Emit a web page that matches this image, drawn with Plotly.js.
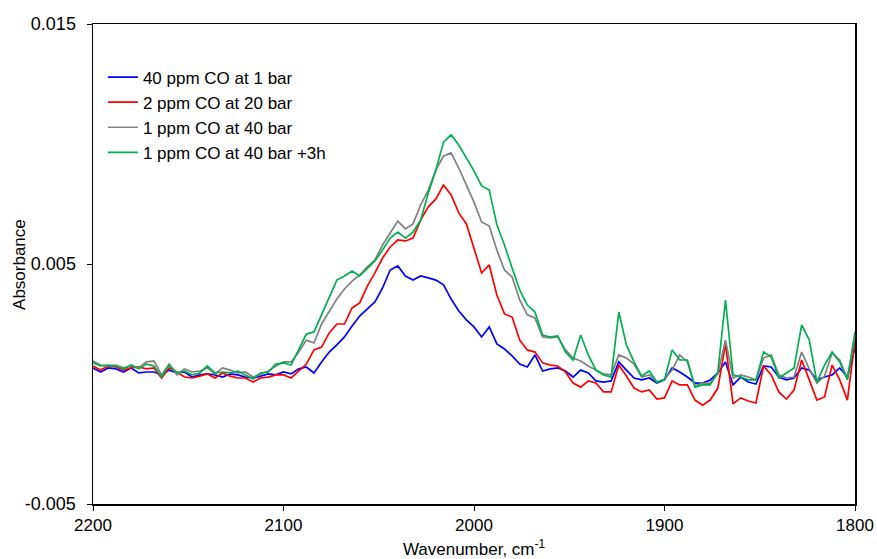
<!DOCTYPE html>
<html>
<head>
<meta charset="utf-8">
<script src="https://cdn.plot.ly/plotly-3.0.1.min.js"></script>
<style>html,body{margin:0;padding:0;background:#fff;}#chart{width:877px;height:559px;}</style>
</head>
<body>
<div id="chart"></div>
<script>
const wavenumber = [2200,2196,2192,2188,2184,2180,2176,2172,2168,2164,2160,2156,2152,2148,2144,2140,2136,2132,2128,2124,2120,2116,2112,2108,2104,2100,2096,2092,2088,2084,2080,2076,2072,2068,2064,2060,2056,2052,2048,2044,2040,2036,2032,2028,2024,2020,2016,2012,2008,2004,2000,1996,1992,1988,1984,1980,1976,1972,1968,1964,1960,1956,1952,1948,1944,1940,1936,1932,1928,1924,1920,1916,1912,1908,1904,1900,1896,1892,1888,1884,1880,1876,1872,1868,1864,1860,1856,1852,1848,1844,1840,1836,1832,1828,1824,1820,1816,1812,1808,1804,1800];

const co40ppm1bar = [
0.00067,0.00050,0.00067,0.00063,0.00050,0.00067,0.00046,0.00050,0.00050,0.00038,
0.00058,0.00046,0.00050,0.00029,0.00038,0.00042,0.00038,0.00029,0.00042,0.00038,
0.00029,0.00025,0.00033,0.00042,0.00038,0.00050,0.00042,0.00063,0.00071,0.00046,
0.00092,0.00133,0.00163,0.00196,0.00242,0.00283,0.00313,0.00342,0.00400,0.00475,
0.00492,0.00450,0.00433,0.00450,0.00442,0.00433,0.00413,0.00354,0.00304,0.00267,
0.00238,0.00196,0.00238,0.00167,0.00146,0.00117,0.00083,0.00071,0.00121,0.00054,
0.00063,0.00067,0.00054,0.00029,0.00058,0.00046,0.00013,0.00008,0.00013,0.00092,
0.00058,0.00025,0.00017,0.00025,0.00004,0.00017,0.00067,0.00050,0.00029,0.00004,
0.00004,0.00017,0.00046,0.00092,-0.00004,0.00029,0.00008,0.00000,0.00075,0.00071,
0.00029,0.00017,0.00025,0.00067,0.00058,0.00017,0.00029,0.00038,0.00067,0.00029,
0.00150];

const co2ppm20bar = [
0.00075,0.00058,0.00075,0.00071,0.00058,0.00067,0.00071,0.00063,0.00067,0.00025,
0.00067,0.00050,0.00029,0.00025,0.00033,0.00042,0.00025,0.00046,0.00033,0.00025,
0.00025,0.00008,0.00025,0.00029,0.00038,0.00038,0.00025,0.00054,0.00083,0.00142,
0.00154,0.00213,0.00250,0.00250,0.00317,0.00338,0.00408,0.00463,0.00525,0.00571,
0.00600,0.00596,0.00608,0.00683,0.00738,0.00771,0.00829,0.00788,0.00713,0.00667,
0.00567,0.00463,0.00496,0.00371,0.00292,0.00279,0.00183,0.00142,0.00133,0.00088,
0.00079,0.00075,0.00050,0.00004,-0.00013,0.00013,0.00004,-0.00033,-0.00033,0.00079,
0.00033,-0.00017,-0.00033,-0.00025,-0.00063,-0.00058,0.00013,-0.00004,-0.00004,-0.00067,
-0.00088,-0.00067,-0.00017,0.00167,-0.00083,-0.00058,-0.00071,-0.00079,0.00075,0.00038,
-0.00033,-0.00063,-0.00025,0.00100,0.00017,-0.00067,-0.00054,0.00079,0.00017,-0.00067,
0.00183];

const co1ppm40bar = [
0.00096,0.00079,0.00075,0.00079,0.00067,0.00075,0.00067,0.00092,0.00096,0.00038,
0.00083,0.00038,0.00063,0.00050,0.00054,0.00067,0.00042,0.00067,0.00058,0.00046,
0.00050,0.00029,0.00042,0.00054,0.00075,0.00092,0.00092,0.00133,0.00183,0.00171,
0.00250,0.00304,0.00354,0.00396,0.00429,0.00454,0.00488,0.00517,0.00579,0.00629,
0.00679,0.00646,0.00667,0.00746,0.00808,0.00892,0.00950,0.00963,0.00900,0.00829,
0.00758,0.00675,0.00658,0.00558,0.00475,0.00446,0.00350,0.00288,0.00275,0.00196,
0.00192,0.00196,0.00142,0.00108,0.00096,0.00075,0.00058,0.00042,0.00038,0.00121,
0.00108,0.00083,0.00029,0.00038,0.00008,0.00021,0.00058,0.00121,0.00092,-0.00008,
0.00004,0.00004,0.00042,0.00183,0.00025,0.00038,0.00029,0.00017,0.00108,0.00121,
0.00038,0.00025,0.00029,0.00133,0.00063,0.00004,0.00033,0.00129,0.00100,0.00021,
0.00204];

const co1ppm40bar3h = [
0.00088,0.00075,0.00079,0.00075,0.00063,0.00079,0.00063,0.00083,0.00075,0.00029,
0.00079,0.00046,0.00054,0.00038,0.00046,0.00075,0.00046,0.00050,0.00046,0.00054,
0.00038,0.00021,0.00046,0.00050,0.00083,0.00088,0.00079,0.00142,0.00208,0.00217,
0.00288,0.00363,0.00433,0.00450,0.00471,0.00450,0.00483,0.00513,0.00558,0.00608,
0.00633,0.00608,0.00633,0.00683,0.00796,0.00892,0.01008,0.01038,0.00996,0.00942,
0.00888,0.00825,0.00808,0.00663,0.00579,0.00483,0.00392,0.00329,0.00300,0.00204,
0.00196,0.00200,0.00133,0.00100,0.00204,0.00121,0.00058,0.00038,0.00029,0.00300,
0.00163,0.00092,0.00033,0.00054,0.00008,0.00017,0.00142,0.00100,0.00100,-0.00013,
-0.00004,-0.00004,0.00050,0.00350,0.00038,0.00029,0.00017,0.00017,0.00133,0.00113,
0.00025,0.00046,0.00067,0.00246,0.00183,0.00008,0.00079,0.00133,0.00092,0.00017,
0.00217];

const seriesNames = ['40 ppm CO at 1 bar','2 ppm CO at 20 bar','1 ppm CO at 40 bar','1 ppm CO at 40 bar +3h'];
const seriesColors = ['#0000FF','#FF0000','#808080','#00B050'];
const seriesValues = [co40ppm1bar, co2ppm20bar, co1ppm40bar, co1ppm40bar3h];

const xTicks = [2200,2100,2000,1900,1800];
const yTicks = [-0.005,0.005,0.015];
const yTickLabels = ['-0.005','0.005','0.015'];

const FONT = 'Liberation Sans, Arial, Helvetica, sans-serif';

const traces = seriesValues.map((vals,i)=>({
  type:'scatter', mode:'lines', x: wavenumber, y: vals, name: seriesNames[i],
  line:{color: seriesColors[i], width:1.7}
}));

const layout = {
  width:877, height:559,
  margin:{l:93, r:22, t:24, b:55, pad:0},
  paper_bgcolor:'#fff', plot_bgcolor:'#fff',
  font:{family:FONT, size:17, color:'#000'},
  showlegend:true,
  legend:{x:0.013, y:0.926, xanchor:'left', yanchor:'top', bgcolor:'rgba(0,0,0,0)',
          font:{family:FONT, size:17, color:'#000'}, itemwidth:30},
  xaxis:{range:[2200,1800], tickvals:xTicks, ticks:'outside', ticklen:5, tickwidth:1, tickcolor:'#000',
         showline:true, mirror:true, linecolor:'#000', linewidth:1.5, showgrid:false, zeroline:false,
         tickfont:{family:FONT, size:17, color:'#000'},
         title:{text:'Wavenumber, cm<sup>-1</sup>', font:{family:FONT, size:17, color:'#000'}, standoff:10}},
  yaxis:{range:[-0.005,0.015], tickvals:yTicks, ticktext:yTickLabels, ticks:'outside', ticklen:5, tickwidth:1, tickcolor:'#000',
         showline:true, mirror:true, linecolor:'#000', linewidth:1.5, showgrid:false, zeroline:false,
         ticklabelstandoff:7,
         tickfont:{family:FONT, size:18, color:'#000'}},
  annotations:[{text:'Absorbance', xref:'paper', yref:'paper', x:-0.0958, y:0.498,
                xanchor:'center', yanchor:'middle', textangle:-90, showarrow:false,
                font:{family:FONT, size:17, color:'#000'}}]
};

Plotly.newPlot('chart', traces, layout, {displayModeBar:false, staticPlot:true});
</script>
</body>
</html>
